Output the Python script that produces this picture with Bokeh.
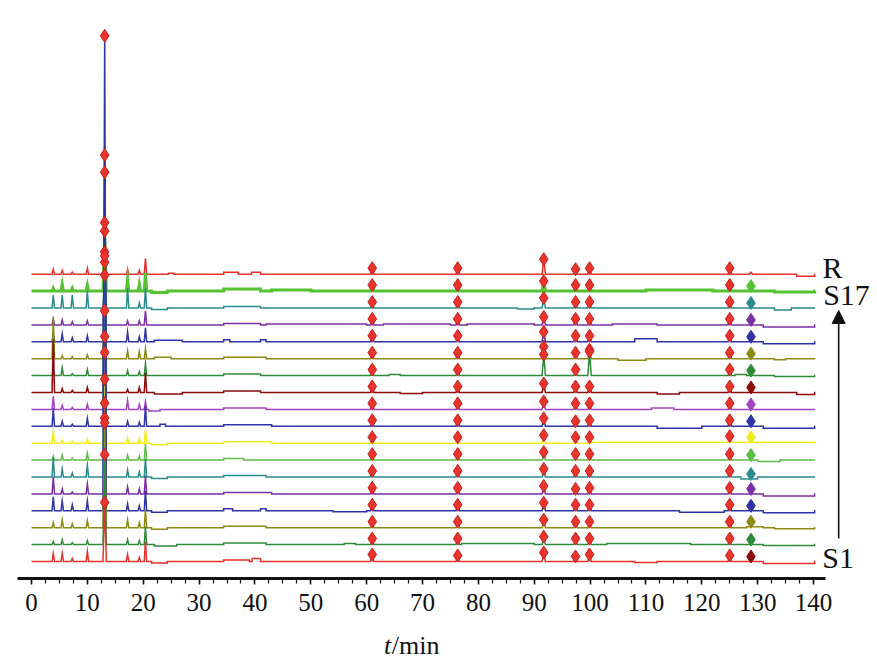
from bokeh.plotting import figure
from bokeh.layouts import column
from bokeh.models import Range1d, SingleIntervalTicker, Arrow, NormalHead
from bokeh.core.properties import value
from bokeh.embed import file_html
from bokeh.resources import INLINE

# ---------------- data ----------------
trace_names = ["S1", "S2", "S3", "S4", "S5", "S6", "S7", "S8", "S9", "S10",
               "S11", "S12", "S13", "S14", "S15", "S16", "S17", "R"]
trace_colors = ["#e8302c", "#2e8b3a", "#8c8a14", "#2f33a6", "#7b2fa6", "#2a8a8c",
                "#5dbb4a", "#f0ec1c", "#2e33a8", "#a443c2", "#8b0a0a", "#2e8b3a",
                "#8c8a14", "#2f33a6", "#7b2fa6", "#2a8a8c", "#55c232", "#e8302c"]
marker_colors = ["#8b0a0a", "#2e8b3a", "#8c8a14", "#2f33a6", "#7b2fa6", "#2a8a8c",
                 "#5dbb4a", "#f0ec1c", "#2e33a8", "#a443c2", "#8b0a0a", "#2e8b3a",
                 "#8c8a14", "#2f33a6", "#7b2fa6", "#2a8a8c", "#55c232", None]
trace_widths = [1.5] * 16 + [3.0, 1.5]
trace_spacing = 16.9          # vertical offset between stacked chromatograms
run_end = 140.3               # min

# early peaks (min) and heights per trace (S1..R)
early_times = [3.9, 5.5, 7.3, 10.0, 13.1, 17.2, 19.3, 20.4]
early_heights = [
    [8, 8, 3, 10, 59, 7, 4, 20],      # S1
    [3, 5, 2, 4, 90, 5, 4, 18],       # S2
    [5, 8, 4, 7, 105, 8, 5, 18],      # S3
    [14, 10, 6, 10, 475, 7, 5, 20],   # S4
    [17, 5, 2, 10, 76, 7, 5, 18],     # S5
    [20, 8, 4, 12, 322, 7, 5, 18],    # S6
    [4, 5, 2, 7, 57, 5, 4, 16],       # S7
    [12, 3, 2, 4, 64, 5, 5, 14],      # S8
    [18, 5, 2, 8, 254, 5, 4, 20],     # S9
    [13, 4, 2, 5, 57, 9, 5, 8],       # S10
    [53, 4, 2, 5, 56, 3, 5, 20],      # S11
    [5, 8, 2, 6, 153, 5, 4, 12],      # S12
    [42, 3, 2, 4, 48, 8, 7, 10],      # S13
    [8, 8, 4, 6, 86, 10, 5, 14],      # S14
    [6, 5, 3, 4, 73, 4, 4, 14],       # S15
    [13, 13, 13, 17, 33, 20, 5, 20],  # S16
    [3, 7, 3, 6, 60, 12, 7, 18],      # S17
    [5, 4, 2, 6, 12, 5, 4, 16],       # R
]
big_peak_index = 4

# marked common peaks (min) and heights per trace
marked_times = [61.0, 76.3, 91.7, 97.4, 99.9, 125.0]
last_time = 128.8
marked_heights = [
    [7, 6, 9, 5, 7, 6, 5],
    [6, 6, 8, 6, 6, 6, 5],
    [6, 6, 8, 6, 6, 6, 5],
    [6, 6, 8, 6, 6, 6, 5],
    [6, 6, 8, 5, 6, 6, 5],
    [6, 6, 8, 6, 6, 6, 5],
    [6, 6, 8, 6, 6, 6, 5],
    [6, 6, 8, 6, 6, 6, 5],
    [6, 6, 8, 5, 6, 6, 5],
    [6, 6, 8, 6, 6, 6, 5],
    [6, 6, 9, 6, 6, 6, 5],
    [6, 6, 21, 6, 24, 6, 5],
    [6, 6, 12, 6, 9, 6, 5],
    [6, 6, 10, 6, 6, 6, 5],
    [6, 6, 8, 6, 6, 6, 5],
    [6, 6, 10, 6, 6, 6, 5],
    [6, 6, 10, 6, 6, 6, 5],
    [6, 6, 15, 5, 6, 6, 2],
]

# baseline plateaus (start min, end min, level)
plateaus = [
    [(21.5, 24.3, -1.5), (34.4, 39, 1.5), (39.5, 41, 3), (108, 112, -1), (131, 140.2, -2)],
    [(22, 26, -1.5), (34.4, 42, 1.5), (56, 58, 1), (77, 90, 1), (103, 118, 1), (131, 140.2, -1)],
    [(21.5, 24.3, -1.5), (34.4, 42, 1.5), (128, 131, 1), (133, 140.2, -1)],
    [(21.5, 24.3, -1.5), (34.4, 36, 2), (41, 42, 2), (54, 60, -1), (116, 124, -1.5), (131, 140.2, -2)],
    [(34.4, 43, 1.5), (131, 140.2, -2)],
    [(21.5, 24.3, -1.5), (34.4, 42, 1.5), (127, 130, -2)],
    [(34.4, 38, 1.5), (130, 134, -1.5)],
    [(21.5, 24.3, -1.5), (34.4, 43, 1.5), (100, 140.2, 1)],
    [(23, 24, 2), (34.4, 43, 1.5), (112, 120, -2), (131, 140.2, -2)],
    [(21, 23, -1.5), (34.4, 42, 1.5), (111, 115, 1.5)],
    [(22, 27, -1.5), (34.4, 41, 1.5), (66, 70, -1), (112, 116, -1.5), (137, 140.2, -2)],
    [(34.4, 41, 1.5), (64, 66, 1), (126, 128, 1), (133, 140.2, -1)],
    [(22, 25, 1.5), (34.4, 42, 1.5), (105, 110, -1.5), (133, 135, -1)],
    [(22, 27, 1.5), (34.4, 35.5, 2), (41, 42, 2), (108, 112, 3), (131, 140.2, -2)],
    [(34.4, 41, 1.5), (42, 60, 1), (63, 75, 1), (78, 90, 1), (104, 112, 1), (131, 140.2, -2)],
    [(21.5, 24.3, -1.5), (34.4, 41, 1.5), (87, 90, -1), (133, 136, -2)],
    [(21.5, 24.3, -1.5), (34.4, 41, 2), (43, 50, 1), (110, 122, 1), (133, 140.2, -1)],
    [(24.5, 25.5, 1), (34.4, 37, 2), (39.4, 41, 2), (137, 140.2, -2)],
]

tick_step = 10
x_label_italic = "t"
x_label_rest = "/min"


# ---------------- helpers ----------------
def base_level(pl, t):
    return sum(h for (a, b, h) in pl if a <= t < b)


def build_trace(pl, peaks, offset):
    events = []
    for (a, b, h) in pl:
        events.append((a, "step", 0, 0))
        events.append((b, "step", 0, 0))
    for (t, h, w) in peaks:
        events.append((t, "peak", h, w))
    events.sort(key=lambda e: e[0])
    xs = [0.0]
    ys = [offset + base_level(pl, 0.0)]
    for (t, kind, h, w) in events:
        if kind == "step":
            xs += [t, t]
            ys += [offset + base_level(pl, t - 1e-6), offset + base_level(pl, t + 1e-6)]
        else:
            b = base_level(pl, t)
            xs += [t - w, t, t + w]
            ys += [offset + b, offset + b + h, offset + b]
    xs.append(run_end)
    ys.append(offset + base_level(pl, run_end - 1e-6))
    return xs, ys


# ---------------- main figure ----------------
W = 877
xr = Range1d(-2.506, 151.45)
p = figure(width=W, height=620,
           x_range=xr, y_range=Range1d(-17, 553),
           output_backend="svg", toolbar_location=None, y_axis_location=None,
           min_border_left=17, min_border_right=0, min_border_top=8,
           min_border_bottom=42)
p.outline_line_color = None
p.grid.visible = False
p.background_fill_color = "white"
p.border_fill_color = "white"

red_x, red_y = [], []
col_x, col_y, col_c = [], [], []

order = list(range(len(trace_names)))[::-1]  # draw R first, S1 last
for i in order:
    offset = i * trace_spacing
    pl = plateaus[i]
    peaks = []
    for k, t in enumerate(early_times):
        w = 0.3 if k == big_peak_index else 0.22
        peaks.append((t, early_heights[i][k], w))
    for k, t in enumerate(marked_times):
        peaks.append((t, marked_heights[i][k], 0.3))
    peaks.append((last_time, marked_heights[i][6], 0.3))
    xs, ys = build_trace(pl, peaks, offset)
    p.line(xs, ys, line_color=trace_colors[i], line_width=trace_widths[i],
           line_join="miter")

    t_big = early_times[big_peak_index]
    red_x.append(t_big)
    red_y.append(offset + base_level(pl, t_big) + early_heights[i][big_peak_index])
    for k, t in enumerate(marked_times):
        red_x.append(t)
        red_y.append(offset + base_level(pl, t) + marked_heights[i][k])
    if marker_colors[i] is not None:
        col_x.append(last_time)
        col_y.append(offset + base_level(pl, last_time) + marked_heights[i][6])
        col_c.append(marker_colors[i])

p.scatter(red_x, red_y, marker="diamond", size=13, fill_color="#e8352c",
          line_color="#c81e1e", line_width=1)
p.scatter(col_x, col_y, marker="diamond", size=13, fill_color=col_c,
          line_color=col_c, line_width=1)

# sample labels and arrow
p.text(x=[143.4, 145.9, 144.4], y=[294.5, 267, 4], text=["R", "S17", "S1"],
       text_font=value("Liberation Serif"), text_font_size="30px",
       text_align="center", text_baseline="middle", text_color="#111111")
p.add_layout(Arrow(x_start=144.5, y_start=23, x_end=144.5, y_end=251,
                   line_color="#111111", line_width=1.6,
                   end=NormalHead(size=13, fill_color="#111111",
                                  line_color="#111111")))

# x axis
ax = p.xaxis[0]
ax.ticker = SingleIntervalTicker(interval=tick_step, num_minor_ticks=4)
ax.bounds = (-2.45, 142.2)
ax.axis_line_width = 3
ax.axis_line_color = "#111111"
ax.major_tick_in = 0
ax.major_tick_out = 6
ax.minor_tick_in = 0
ax.minor_tick_out = 5
ax.major_tick_line_width = 1.5
ax.minor_tick_line_width = 1.2
ax.major_tick_line_color = "#111111"
ax.minor_tick_line_color = "#111111"
ax.major_label_text_font = "Liberation Serif"
ax.major_label_text_font_size = "25px"
ax.major_label_text_color = "#111111"
ax.major_label_standoff = 9

# ---------------- axis title strip (italic t + /min) ----------------
q = figure(width=W, height=50, x_range=xr, y_range=Range1d(0, 50),
           output_backend="svg", toolbar_location=None,
           x_axis_location=None, y_axis_location=None,
           min_border_left=17, min_border_right=0, min_border_top=0,
           min_border_bottom=0)
q.outline_line_color = None
q.grid.visible = False
q.text(x=[63.1], y=[25], text=[x_label_italic],
       text_font=value("Liberation Serif"), text_font_style="italic",
       text_font_size="26px", text_align="left", text_baseline="middle",
       text_color="#111111")
q.text(x=[64.5], y=[25], text=[x_label_rest],
       text_font=value("Liberation Serif"), text_font_size="26px",
       text_align="left", text_baseline="middle", text_color="#111111")

layout = column(p, q, spacing=0)
open("out.html", "w").write(file_html(layout, INLINE))
